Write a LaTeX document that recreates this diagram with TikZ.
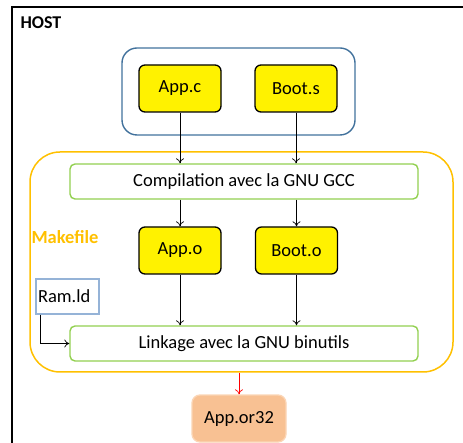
\documentclass[tikz,border=0pt]{standalone}
\usepackage{fontspec}
\setmainfont{Carlito}
\usetikzlibrary{arrows.meta}

\definecolor{groupblue}{HTML}{41719C}
\definecolor{makeorange}{HTML}{FFC000}
\definecolor{stepgreen}{HTML}{92D050}
\definecolor{ldblue}{HTML}{95B3D7}
\definecolor{outfill}{HTML}{F8C193}
\definecolor{outline}{HTML}{FBD5B5}

\tikzset{
  srcbox/.style={draw,line width=1.3pt,fill=yellow,rounded corners=6pt,
    minimum width=82pt,minimum height=47pt,font=\fontsize{18.5}{22}\selectfont},
  stepbox/.style={draw=stepgreen,line width=1.4pt,rounded corners=5pt,
    minimum width=348pt,minimum height=35pt,font=\fontsize{18.5}{22}\selectfont},
  flow/.style={-{To[length=5pt,width=8pt]},line width=0.7pt}
}

\begin{document}
\begin{tikzpicture}[x=1pt,y=-1pt]
  \useasboundingbox (0,0) rectangle (463,443);
  \draw[line width=2pt] (463,7) -| (12,443);
  \node[font=\fontsize{18}{22}\selectfont\bfseries] (host) at (41,23) {HOST};

  \node[draw=groupblue,line width=1.4pt,rounded corners=15pt,
    minimum width=233pt,minimum height=87pt] (sources) at (238.5,91.5) {};
  \node[srcbox] (appc) at (180,88.5) {App.c};
  \node[srcbox] (boots) at (296,88.5) {Boot.s};

  \node[draw=makeorange,line width=1.5pt,rounded corners=30pt,
    minimum width=423pt,minimum height=220pt] (make) at (241.5,262) {};
  \node[text=makeorange,font=\fontsize{18.5}{22}\selectfont\bfseries] (makelbl) at (65,237) {Makefile};

  \node[stepbox] (comp) at (244,181.5) {Compilation avec la GNU GCC};
  \node[srcbox] (appo) at (180,250.5) {App.o};
  \node[srcbox] (booto) at (296.5,250.5) {Boot.o};
  \node[draw=ldblue,line width=1.3pt,minimum width=63pt,minimum height=35pt,
    font=\fontsize{18.5}{22}\selectfont,text width=59pt,align=left,inner sep=2pt]
    (ramld) at (67.5,296.5) {Ram.ld};
  \node[stepbox] (link) at (244,343.5) {Linkage avec la GNU binutils};

  \node[fill=outfill,draw=outline,line width=1.3pt,rounded corners=8pt,
    minimum width=94pt,minimum height=47pt,font=\fontsize{18.5}{22}\selectfont]
    (out) at (239,418.5) {App.or32};

  % fleches
  \draw[flow] (appc.south) -- (appc.south |- comp.north);
  \draw[flow] (boots.south) -- (boots.south |- comp.north);
  \draw[flow] (comp.south -| appo.north) -- (appo.north);
  \draw[flow] (comp.south -| booto.north) -- (booto.north);
  \draw[flow] (appo.south) -- (appo.south |- link.north);
  \draw[flow] (booto.south) -- (booto.south |- link.north);
  \draw[flow] ([xshift=5pt]ramld.south west) |- (link.west);
  \draw[flow,red] (make.south -| out.north) -- (out.north);
\end{tikzpicture}
\end{document}
